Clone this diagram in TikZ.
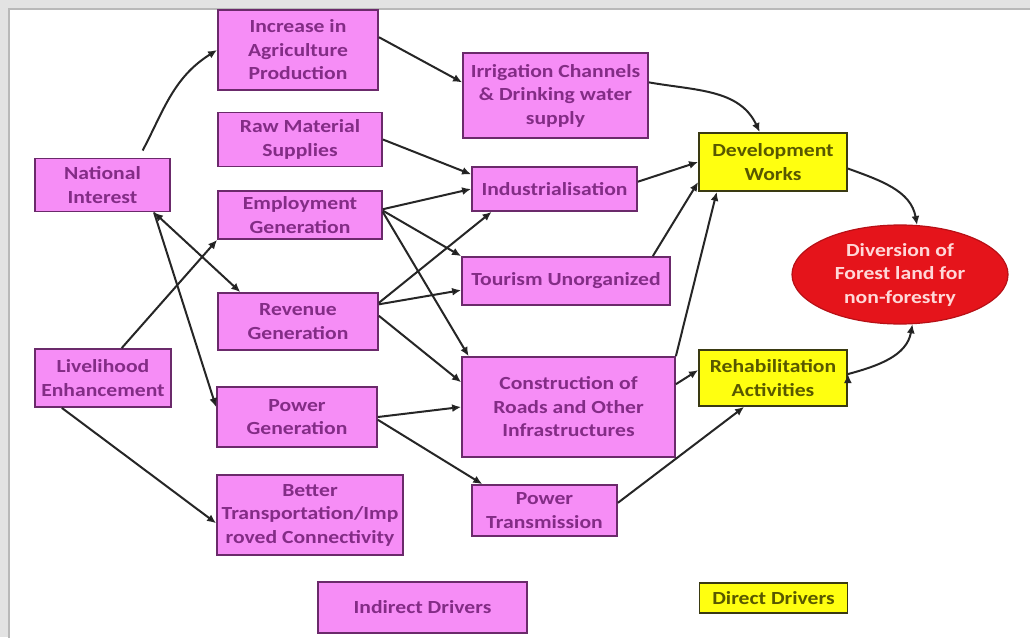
\documentclass[tikz,border=0pt]{standalone}
\usepackage{fontspec}
\setmainfont{Carlito}[FakeStretch=1.17]
\usetikzlibrary{arrows.meta,shapes.geometric}

\definecolor{pinkfill}{HTML}{F68DF6}
\definecolor{pinkline}{HTML}{6B2A6B}
\definecolor{pinktext}{HTML}{832C86}
\definecolor{yelfill}{HTML}{FFFF10}
\definecolor{yelline}{HTML}{3A3A12}
\definecolor{yeltext}{HTML}{585800}
\definecolor{redfill}{HTML}{E5141B}
\definecolor{redtext}{HTML}{FFD8D8}
\definecolor{arrowcol}{HTML}{262626}

\begin{document}
\begin{tikzpicture}[x=1pt,y=-1pt,
    font=\bfseries\fontsize{18.5}{23.5}\selectfont,
    pbox/.style={rectangle,draw=pinkline,line width=1.8pt,fill=pinkfill,
      text=pinktext,align=center,inner sep=0pt},
    ybox/.style={rectangle,draw=yelline,line width=1.8pt,fill=yelfill,
      text=yeltext,align=center,inner sep=0pt},
    arr/.style={draw=arrowcol,line width=2pt,-{Latex[length=9pt,width=8pt]}}]
  \useasboundingbox (0,0) rectangle (1030,637);
  % frame
  \fill[gray!22] (0,0) rectangle (1030,637);
  \draw[gray!55,line width=2pt,fill=white] (9,9) rectangle (1045,650);

  % indirect drivers
  \node[pbox,minimum width=160pt,minimum height=80pt] (agri) at (298,50) {Increase in\\Agriculture\\Production};
  \node[pbox,minimum width=164pt,minimum height=54pt] (raw) at (300,139.5) {Raw Material\\Supplies};
  \node[pbox,minimum width=135pt,minimum height=53pt] (natl) at (102.5,185) {National\\Interest};
  \node[pbox,minimum width=164pt,minimum height=48pt] (emp) at (300,215) {Employment\\Generation};
  \node[pbox,minimum width=160pt,minimum height=57pt] (rev) at (298,321.5) {Revenue\\Generation};
  \node[pbox,minimum width=136pt,minimum height=58pt] (live) at (103,378) {Livelihood\\Enhancement};
  \node[pbox,minimum width=160pt,minimum height=60pt] (pgen) at (297,417) {Power\\Generation};
  \node[pbox,minimum width=186pt,minimum height=80pt] (better) at (310,515) {Better\\Transportation/Imp\\roved Connectivity};
  \node[pbox,minimum width=185pt,minimum height=85pt] (irrig) at (555.5,95.5) {Irrigation Channels\\\& Drinking water\\supply};
  \node[pbox,minimum width=165pt,minimum height=44pt] (indus) at (554.5,189) {Industrialisation};
  \node[pbox,minimum width=208pt,minimum height=48pt] (tour) at (566,281) {Tourism Unorganized};
  \node[pbox,minimum width=213pt,minimum height=100pt] (constr) at (568.5,407) {Construction of\\Roads and Other\\Infrastructures};
  \node[pbox,minimum width=145pt,minimum height=51pt] (ptrans) at (544.5,510.5) {Power\\Transmission};

  % direct drivers
  \node[ybox,minimum width=148pt,minimum height=58pt] (dev) at (773,162) {Development\\Works};
  \node[ybox,minimum width=148pt,minimum height=56pt] (rehab) at (773,378) {Rehabilitation\\Activities};
  \node[ellipse,draw=redfill!80!black,line width=1.2pt,fill=redfill,text=redtext,
    align=center,inner sep=0pt,minimum width=216pt,minimum height=99pt] (div) at (900,274.5)
    {Diversion of\\Forest land for\\non-forestry};

  % legend
  \node[pbox,minimum width=209pt,minimum height=51pt] (indirect) at (422.5,607.5) {Indirect Drivers};
  \node[ybox,minimum width=148pt,minimum height=30pt] (direct) at (773.5,598) {Direct Drivers};

  \path[arr]
    (natl.37) edge[out=62,in=212,shorten <=8pt] (agri.west)
    (agri.9) edge (irrig.172)
    (raw.east) edge (indus.170)
    (emp.4) edge (indus.west)
    (emp.3) edge (tour.north west)
    (emp.2) edge (constr.153)
    (natl.-28) edge[{Latex[length=9pt,width=8pt]}-{Latex[length=9pt,width=8pt]}] (rev.153)
    (natl.-28) edge (pgen.173)
    (live.58) edge (emp.south west)
    (live.216) edge (better.185)
    (rev.13) edge (indus.200)
    (rev.12) edge (tour.185)
    (rev.4) edge (constr.167)
    (pgen.east) edge (constr.west)
    (pgen.-2) edge (ptrans.157)
    (irrig.8) edge[out=-10,in=115] (dev.114)
    (indus.5) edge (dev.west)
    (tour.16) edge (dev.195)
    (constr.north east) edge (dev.208)
    (constr.12) edge (rehab.174)
    (ptrans.6) edge (rehab.225)
    (dev.-5) edge[out=-20,in=100] (div.71)
    (rehab.3) edge[out=15,in=-100] (div.-76);
\end{tikzpicture}
\end{document}
